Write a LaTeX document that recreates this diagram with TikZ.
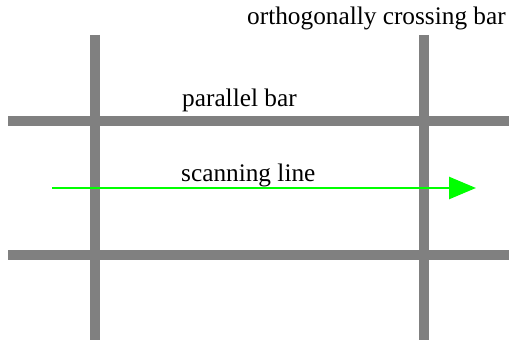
\documentclass[tikz,border=0pt]{standalone}
\usepackage{fontspec}
\setmainfont{Liberation Serif}
\usetikzlibrary{arrows.meta}
\definecolor{bargray}{HTML}{808080}
\definecolor{scangreen}{HTML}{00FF00}
\tikzset{
  bar/.style={draw=bargray, line width=10pt},
  scan/.style={draw=scangreen, line width=2.6pt,
    -{Triangle[length=27pt,width=22pt]}},
  lbl/.style={anchor=base west, inner sep=0pt, font=\fontsize{25.3}{29}\selectfont}
}
\begin{document}
\begin{tikzpicture}[x=1pt,y=-1pt]
  \useasboundingbox (0,0) rectangle (509,342);
  % parallel bars
  \draw[bar] (8,121) -- (509,121);
  \draw[bar] (8,255) -- (509,255);
  % orthogonally crossing bars
  \draw[bar] (95,35) -- (95,340);
  \draw[bar] (424,35) -- (424,340);
  % scanning line
  \coordinate (s0) at (52,188);
  \coordinate (s1) at (476,188);
  \draw[scan] (s0) -- (s1);
  % labels
  \node[lbl] (ortho) at (247,25) {orthogonally crossing bar};
  \node[lbl] (para) at (182,107) {parallel bar};
  \node[lbl] (scanl) at (181,182) {scanning line};
\end{tikzpicture}
\end{document}
